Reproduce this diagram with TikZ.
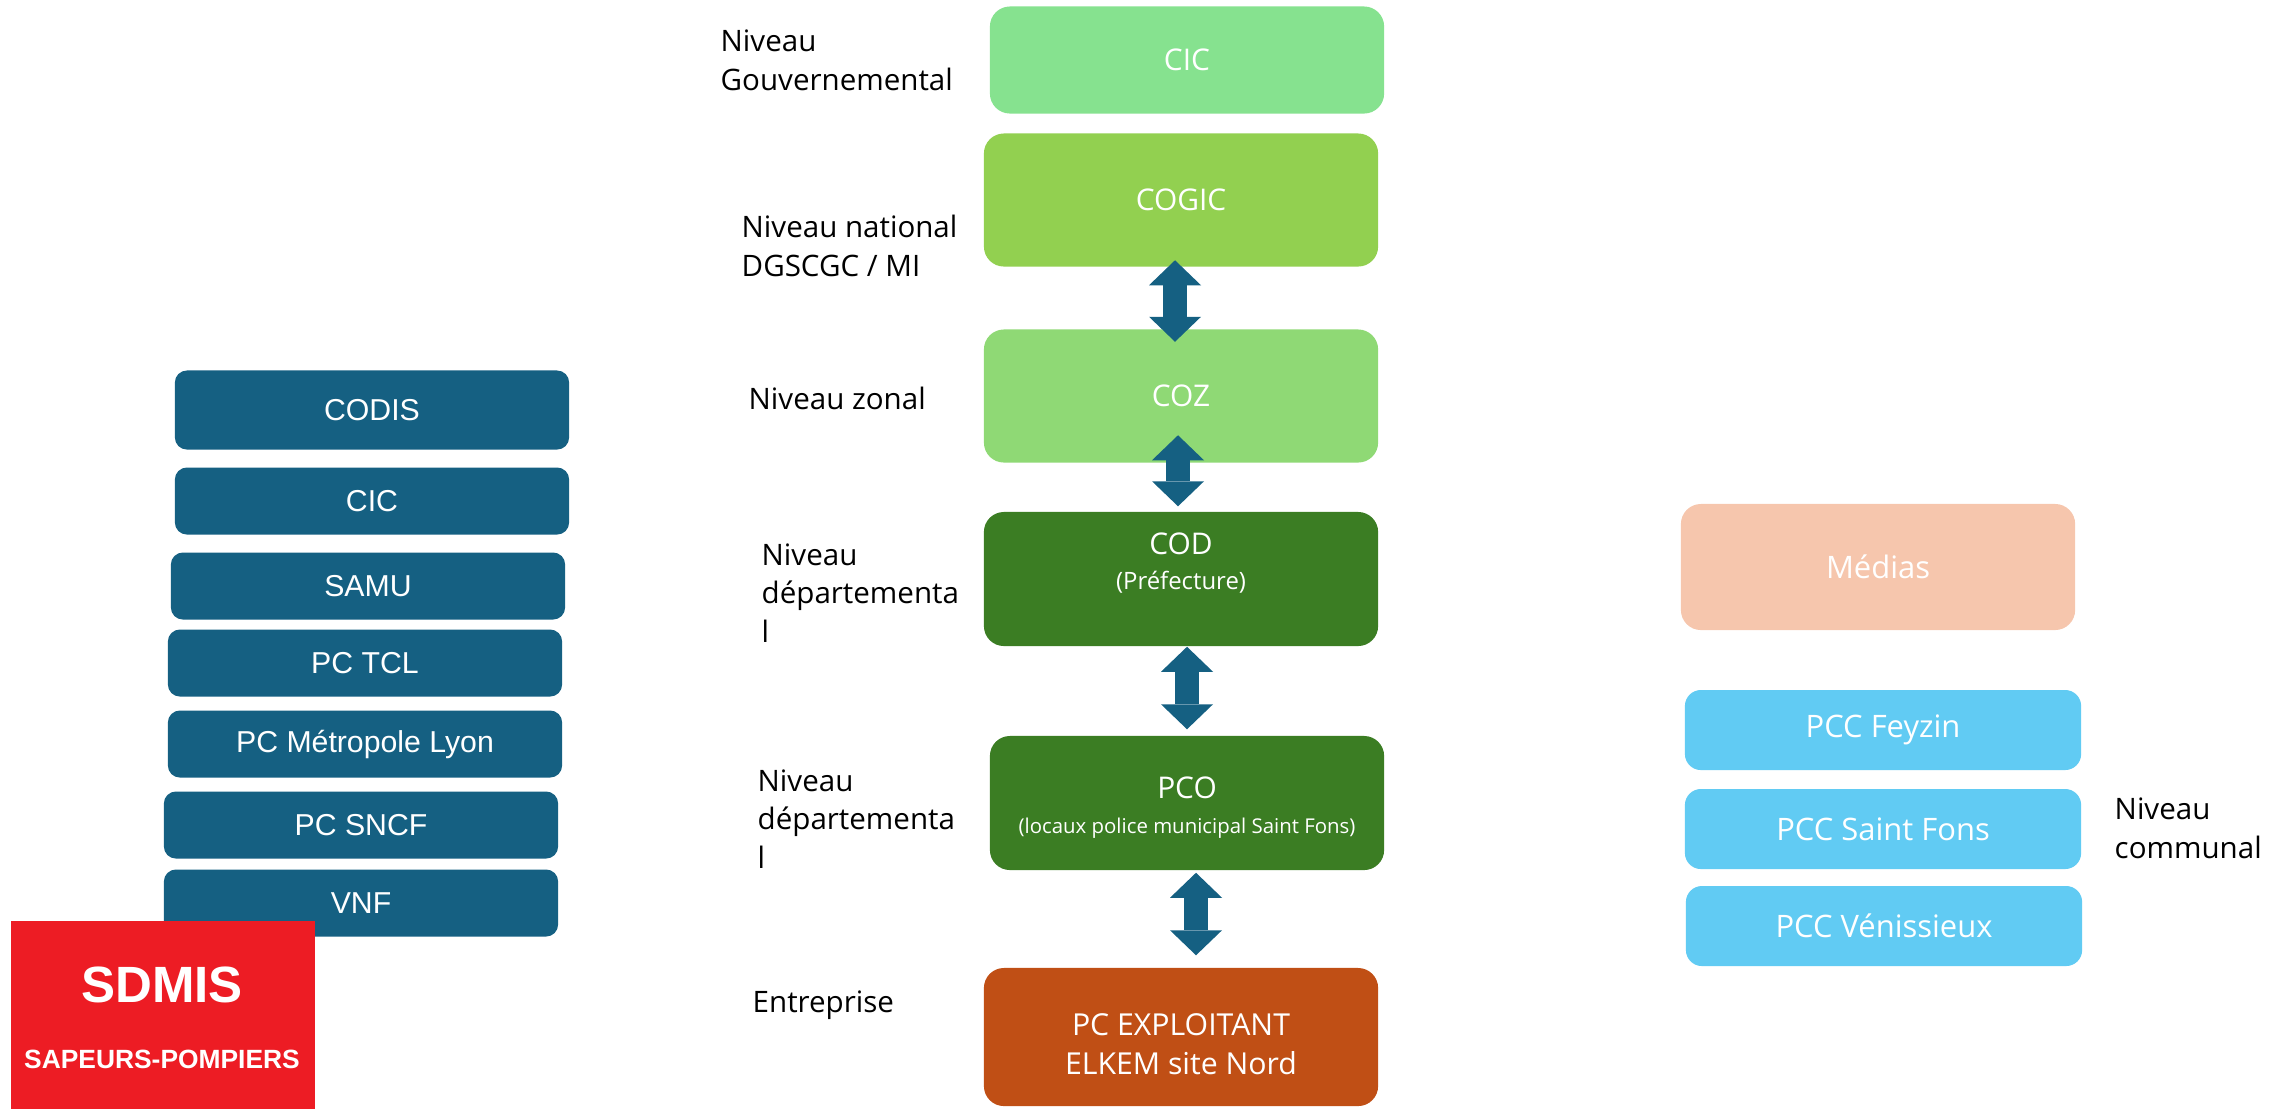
\documentclass[tikz,border=0pt]{standalone}
\usepackage{fontspec}
\setmainfont{Open Sans}
\newfontfamily\arialfont{Liberation Sans}
\usepackage{xcolor}
\usepackage{tikz}
\usetikzlibrary{arrows.meta,positioning}

\definecolor{deepblue}{HTML}{156082}
\definecolor{mintgreen}{HTML}{86E28F}
\definecolor{limegreen}{HTML}{92D050}
\definecolor{zonegreen}{HTML}{8FD975}
\definecolor{darkgreen}{HTML}{3B7D23}
\definecolor{rust}{HTML}{C04F15}
\definecolor{peach}{HTML}{F6C6AD}
\definecolor{skyblue}{HTML}{61CBF3}
\definecolor{sdmisred}{HTML}{ED1C24}

\begin{document}
\begin{tikzpicture}[x=0.01cm,y=-0.01cm,
  >={Triangle[width=5.2mm,length=2.5mm,line width=0pt]},
  leftbox/.style={fill=deepblue,rounded corners=1.2mm,minimum width=3.94cm,minimum height=6.7mm,inner sep=0pt,text=white,font=\arialfont\fontsize{8.6}{10}\selectfont},
  levelbox/.style={rounded corners=2mm,minimum width=3.94cm,minimum height=13.3mm,inner sep=0pt,text=white,align=center,font=\fontsize{8.5}{11}\selectfont},
  pccbox/.style={fill=skyblue,rounded corners=1.6mm,minimum width=3.96cm,minimum height=8mm,inner sep=0pt,text=white,font=\fontsize{8.8}{11}\selectfont},
  levellabel/.style={anchor=west,align=left,inner sep=0pt,font=\fontsize{8.4}{11}\selectfont},
  link/.style={<->,draw=deepblue,line width=2.4mm}]
  \useasboundingbox (0,0) rectangle (2286,1108);

  % services partenaires
  \node[leftbox,minimum height=7.9mm] (codis) at (372,410) {CODIS};
  \node[leftbox] (cicleft) at (372,501) {CIC};
  \node[leftbox] (samu) at (368,586) {SAMU};
  \node[leftbox] (pctcl) at (365,663) {PC TCL};
  \node[leftbox] (pcmetro) at (365,744) {PC Métropole Lyon};
  \node[leftbox] (pcsncf) at (361,825) {PC SNCF};
  \node[leftbox] (vnf) at (361,903) {VNF};
  \node[fill=sdmisred,minimum width=3.04cm,minimum height=1.9cm,inner sep=0pt,anchor=north west] (sdmis) at (10,920) {};
  \node[text=white,font=\arialfont\bfseries\fontsize{14.5}{16}\selectfont] (sdmistitle) at (162,985) {SDMIS};
  \node[text=white,font=\arialfont\bfseries\fontsize{7.5}{9}\selectfont] (sdmissub) at (162,1059) {SAPEURS-POMPIERS};

  % chaine de commandement
  \node[levelbox,fill=mintgreen,minimum height=10.7mm] (cic) at (1187,60) {CIC};
  \node[levelbox,fill=limegreen] (cogic) at (1181,200) {COGIC};
  \node[levelbox,fill=zonegreen] (coz) at (1181,396) {COZ};
  \node[levelbox,fill=darkgreen,minimum height=13.4mm] (cod) at (1181,579) {};
  \node[text=white,align=center,inner sep=0pt,font=\fontsize{8.5}{11}\selectfont] (codtext) at (1181,563) {COD\\[-1pt]{\fontsize{6.8}{8}\selectfont(Préfecture)}};
  \node[levelbox,fill=darkgreen,minimum height=13.4mm] (pco) at (1187,803) {};
  \node[text=white,align=center,inner sep=0pt,font=\fontsize{8.5}{11}\selectfont] (pcotext) at (1187,808) {PCO\\[-1pt]{\fontsize{5.8}{8}\selectfont(locaux police municipal Saint Fons)}};
  \node[levelbox,fill=rust,minimum height=13.8mm] (pcex) at (1181,1037) {};
  \node[text=white,align=center,inner sep=0pt,font=\fontsize{8.6}{11}\selectfont] (pcextext) at (1181,1044) {PC EXPLOITANT\\ELKEM site Nord};

  \draw[link] ([shift={(-6,-7)}]cogic.south) -- ([shift={(-6,13)}]coz.north);
  \draw[link] ([shift={(-3,-28)}]coz.south) -- ([shift={(-3,-5)}]cod.north);
  \draw[link] ([shift={(6,0)}]cod.south) -- ([shift={(0,-6)}]pco.north);
  \draw[link] ([shift={(9,2)}]pco.south) -- ([shift={(15,-12)}]pcex.north);

  % niveaux
  \node[levellabel] (lvgouv) at (720,60) {Niveau\\Gouvernemental};
  \node[levellabel] (lvnat) at (741,246) {Niveau national\\DGSCGC / MI};
  \node[levellabel] (lvzone) at (748,398) {Niveau zonal};
  \node[levellabel] (lvdep) at (761,593) {Niveau\\départementa\\l};
  \node[levellabel] (lvdepb) at (757,819) {Niveau\\départementa\\l};
  \node[levellabel] (lvent) at (752,1005) {Entreprise};

  % communes
  \node[levelbox,fill=peach,minimum height=12.6mm,font=\fontsize{8.8}{11}\selectfont] (medias) at (1878,567) {Médias};
  \node[pccbox] (feyzin) at (1883,730) {PCC Feyzin};
  \node[pccbox] (saintfons) at (1883,829) {PCC Saint Fons};
  \node[pccbox] (venissieux) at (1884,926) {PCC Vénissieux};
  \node[levellabel] (lvcom) at (2114,828) {Niveau\\communal};
\end{tikzpicture}
\end{document}
